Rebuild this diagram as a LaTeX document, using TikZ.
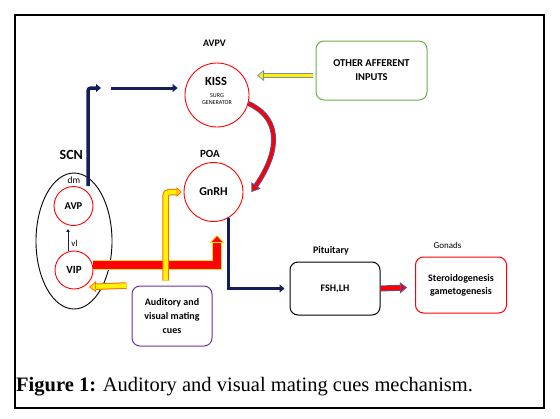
\documentclass[tikz,border=0pt]{standalone}
\usepackage{fontspec}
\setmainfont{Carlito}
\newfontfamily\capfont{Liberation Serif}
\usetikzlibrary{arrows.meta,shapes.geometric}

\definecolor{navy}{RGB}{20,30,90}
\definecolor{boxgreen}{RGB}{112,173,71}
\definecolor{boxpurple}{RGB}{112,48,160}
\definecolor{edgeblue}{RGB}{70,90,170}
\definecolor{edgegrey}{RGB}{120,140,180}
\definecolor{edgeorange}{RGB}{255,110,0}

\tikzset{
  region/.style={circle, draw=red, line width=0.9pt, inner sep=0pt},
  infobox/.style={rounded corners=8pt, line width=1pt, align=center, inner sep=0pt},
  tag/.style={font=\bfseries\fontsize{#1}{#1}\selectfont, inner sep=0pt, anchor=base},
  plaintag/.style={font=\fontsize{#1}{#1}\selectfont, inner sep=0pt, anchor=base},
  navyline/.style={draw=navy, line width=#1, -{Triangle[length=5pt,width=8pt]}},
  fatarrow/.style n args={6}{draw=#2, line width=#3,
    -{Triangle[length=#5,width=#6,fill=#1,line width=0.8pt]},
    postaction={draw=#1, line width=#4, -, shorten >=#5}},
}

\begin{document}
\begin{tikzpicture}[x=1pt, y=1pt]
\useasboundingbox (0,0) rectangle (560,-418);
\fill[white] (0,0) rectangle (560,-418);
% frame round the figure
\draw[line width=2pt] (15,-15) rectangle (544,-408);

% draw regions of the brain
\node[region, minimum size=64pt] (kiss) at (217,-95) {};
\node[tag=12.5] (kisstxt) at (216,-85) {KISS};
\node[plaintag=6, align=center] (surg) at (217,-104) {SURG\\[1pt]GENERATOR};
\node[tag=10] (avpv) at (214.5,-46) {AVPV};

\node[region, minimum size=59pt, font=\bfseries\fontsize{12}{12}\selectfont] (gnrh) at (213.5,-192) {GnRH};
\node[tag=11] (poa) at (210,-157) {POA};

\node[draw, ellipse, minimum width=76pt, minimum height=136pt, line width=0.9pt] (scn) at (74,-241) {};
\node[tag=14] (scntxt) at (71.3,-159) {SCN};
\node[plaintag=9.5] (dm) at (74,-183) {dm};
\node[region, minimum size=39pt, font=\bfseries\fontsize{10.5}{10.5}\selectfont] (avp) at (73.5,-206) {AVP};
\node[region, minimum size=38pt, font=\bfseries\fontsize{11}{11}\selectfont] (vip) at (74,-270) {VIP};
\node[plaintag=9] (vl) at (74.5,-246) {vl};

% draw boxes
\node[infobox, draw=boxgreen, minimum width=111pt, minimum height=59pt,
  font=\bfseries\fontsize{10.5}{14}\selectfont] (other) at (371.5,-70.5) {OTHER AFFERENT\\INPUTS};
\node[infobox, draw=boxpurple, minimum width=80pt, minimum height=60pt,
  font=\bfseries\fontsize{10}{14}\selectfont] (cues) at (172,-316) {Auditory and\\visual mating\\cues};
\node[infobox, draw=black, minimum width=90pt, minimum height=53pt,
  font=\bfseries\fontsize{10}{13}\selectfont] (pit) at (335,-288.5) {FSH,LH};
\node[tag=10] (pittxt) at (331,-253) {Pituitary};
\node[infobox, draw=red, minimum width=91pt, minimum height=56pt,
  font=\bfseries\fontsize{10}{13}\selectfont] (gonads) at (461,-285) {Steroidogenesis\\gametogenesis};
\node[plaintag=9] (gonadstxt) at (447.5,-248) {Gonads};

% free ends of connectors
\coordinate (relay) at (106,-88);
\coordinate (kissin) at (257,-75.5);
\coordinate (redtip) at (217,-235);
\coordinate (vipin) at (89,-287);
\coordinate (gonin) at (407,-287.5);

% draw connectors
\draw[navyline=3.5pt, rounded corners=3pt] ([xshift=14.5pt]avp.north) |- ([xshift=-5pt]relay);
\draw[navyline=3pt, shorten >=7pt] ([xshift=5pt]relay) -- ([yshift=7pt]kiss.west);
\draw[draw=navy, line width=1pt, -{Triangle[length=3pt,width=3.5pt]}, shorten >=3pt]
  ([xshift=-6pt]vip.north) -- ([xshift=-5.5pt]avp.south);
\draw[navyline=2.2pt] (gnrh.-60) |- ([xshift=-5pt]pit.west);

\draw[fatarrow={yellow}{edgegrey}{5.5pt}{3.8pt}{7pt}{11pt}] ([xshift=-3pt,yshift=-5pt]other.west) -- (kissin);
\draw[fatarrow={red}{edgeblue}{5pt}{3.2pt}{8pt}{11pt}] (kiss.-15) to[out=-25, in=55, looseness=1.2] ([xshift=8pt]gnrh.east);
\draw[fatarrow={red}{yellow!85!orange}{9.5pt}{7.5pt}{8pt}{15pt}] ([yshift=5pt]vip.east) -| (redtip);
\draw[fatarrow={yellow}{edgeorange}{6.5pt}{4.5pt}{5pt}{10pt}, rounded corners=4pt]
  ([xshift=-6.5pt,yshift=5pt]cues.north) |- ([xshift=-2pt]gnrh.west);
\draw[fatarrow={yellow}{edgeorange}{6.5pt}{4.5pt}{7pt}{11pt}] ([xshift=-5pt]cues.north west) -- (vipin);
\draw[fatarrow={red}{edgeblue}{6pt}{4.2pt}{7pt}{11pt}] (pit.east) -- (gonin);

% caption
\node[anchor=base west, inner sep=0pt, font=\capfont\fontsize{20.5}{23}\selectfont] (caption) at (16,-391)
  {\textbf{Figure 1:} Auditory and visual mating cues mechanism.};
\end{tikzpicture}
\end{document}
